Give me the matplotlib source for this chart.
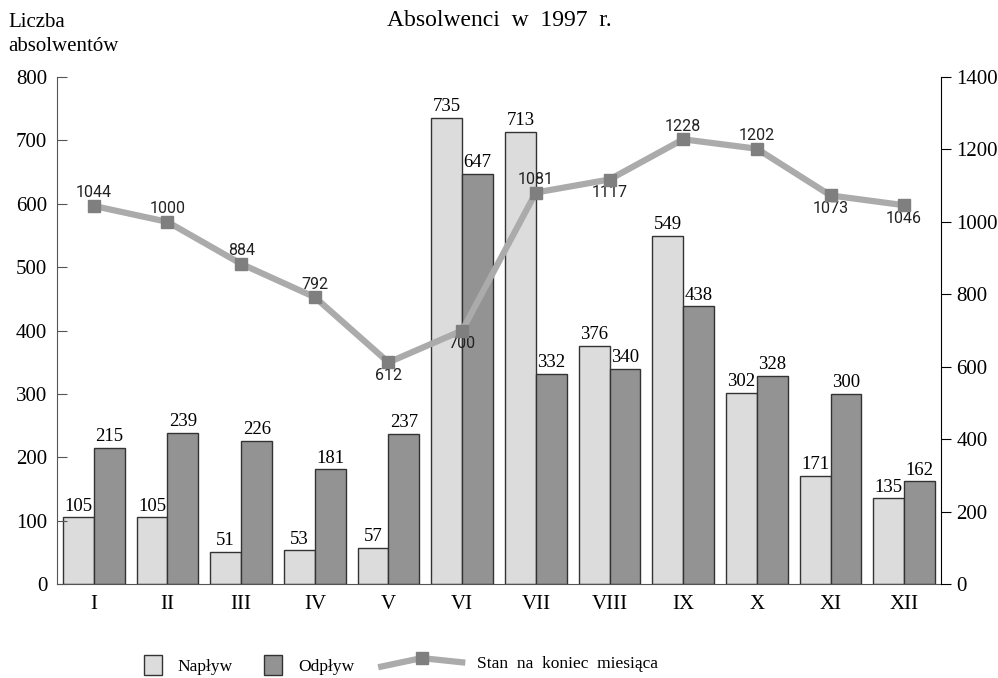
import matplotlib.pyplot as plt
import numpy as np
from matplotlib.patches import Patch
from matplotlib.lines import Line2D
from matplotlib.legend_handler import HandlerBase

# dane
miesiace = ['I', 'II', 'III', 'IV', 'V', 'VI', 'VII', 'VIII', 'IX', 'X', 'XI', 'XII']
naplyw = [105, 105, 51, 53, 57, 735, 713, 376, 549, 302, 171, 135]
odplyw = [215, 239, 226, 181, 237, 647, 332, 340, 438, 328, 300, 162]
stan = [1044, 1000, 884, 792, 612, 700, 1081, 1117, 1228, 1202, 1073, 1046]
# gdzie podpis linii: 1 nad, -1 pod
stan_pos = [1, 1, 1, 1, -1, -1, 1, -1, 1, 1, -1, -1]

jasny = '#dcdcdc'
ciemny = '#939393'
linia = '#ababab'
znacznik = '#7f7f7f'

plt.rcParams['font.family'] = 'Liberation Serif'

fig = plt.figure(figsize=(9.98, 6.78), dpi=100)
ax = fig.add_axes([0.0571, 0.1386, 0.8858, 0.7478])

x = np.arange(len(miesiace))
w = 0.42
b1 = ax.bar(x - w / 2, naplyw, w, color=jasny, edgecolor='#333333', linewidth=1)
b2 = ax.bar(x + w / 2, odplyw, w, color=ciemny, edgecolor='#333333', linewidth=1)
ax.bar_label(b1, padding=2, fontsize=13.5)
ax.bar_label(b2, padding=2, fontsize=13.5)

ax.set_xlim(-0.5, 11.5)
ax.set_ylim(0, 800)
ax.set_yticks(range(0, 801, 100))
ax.set_xticks(x)
ax.set_xticklabels(miesiace)
ax.tick_params(axis='x', length=0, labelsize=15, pad=8)
ax.tick_params(axis='y', direction='in', length=7, labelsize=15, pad=7, color='#555555')
ax.spines['top'].set_visible(False)
ax.spines['right'].set_visible(False)
ax.spines['left'].set_color('#555555')
ax.spines['bottom'].set_color('#555555')

ax2 = ax.twinx()
ax2.plot(x, stan, color=linia, lw=4.5, marker='s', ms=8.5,
         mfc=znacznik, mec=znacznik, zorder=5)
for xi, v, p in zip(x, stan, stan_pos):
    ax2.annotate(str(v), (xi, v), xytext=(0, 4 * p), textcoords='offset points',
                 ha='center', va='bottom' if p > 0 else 'top', fontsize=11.5,
                 family='Roboto', color='#222222')
ax2.set_ylim(0, 1400)
ax2.set_yticks(range(0, 1401, 200))
ax2.tick_params(axis='y', direction='out', length=7, labelsize=15, pad=4)
ax2.spines['top'].set_visible(False)
ax2.spines['left'].set_visible(False)
ax2.spines['bottom'].set_visible(False)

fig.text(0.5, 0.970, 'Absolwenci  w  1997  r.', ha='center', va='center', fontsize=17)
fig.text(0.008, 0.981, 'Liczba', ha='left', va='top', fontsize=15)
fig.text(0.008, 0.945, 'absolwentów', ha='left', va='top', fontsize=15)


class Zygzak(HandlerBase):
    def create_artists(self, legend, orig_handle, xdescent, ydescent,
                       width, height, fontsize, trans):
        x0 = -xdescent
        y0 = -ydescent
        ln = Line2D([x0, x0 + width * 0.5, x0 + width],
                    [y0 + height * 0.15, y0 + height * 0.75, y0 + height * 0.45],
                    color=linia, lw=4.5, transform=trans)
        mk = Line2D([x0 + width * 0.5], [y0 + height * 0.75], marker='s', ms=8.5,
                    mfc=znacznik, mec=znacznik, lw=0, transform=trans)
        return [ln, mk]


fs = 12.5
k = 11.0 / fs
wspolne = dict(loc='center left', frameon=False, fontsize=fs, borderpad=0,
               borderaxespad=0)
fig.legend([Patch(facecolor=jasny, edgecolor='#333333', linewidth=1)], ['Napływ'],
           bbox_to_anchor=(0.144, 0.019), handlelength=1.18 * k, handleheight=1.6 * k,
           handletextpad=1.0 * k, **wspolne)
fig.legend([Patch(facecolor=ciemny, edgecolor='#333333', linewidth=1)], ['Odpływ'],
           bbox_to_anchor=(0.265, 0.019), handlelength=1.18 * k, handleheight=1.6 * k,
           handletextpad=1.0 * k, **wspolne)
fig.legend([Line2D([], [])], ['Stan  na  koniec  miesiąca'],
           bbox_to_anchor=(0.382, 0.022), handlelength=5.3 * k, handleheight=1.0 * k,
           handletextpad=0.95 * k, handler_map={Line2D: Zygzak()}, **wspolne)

fig.savefig('out.png', dpi=100)
